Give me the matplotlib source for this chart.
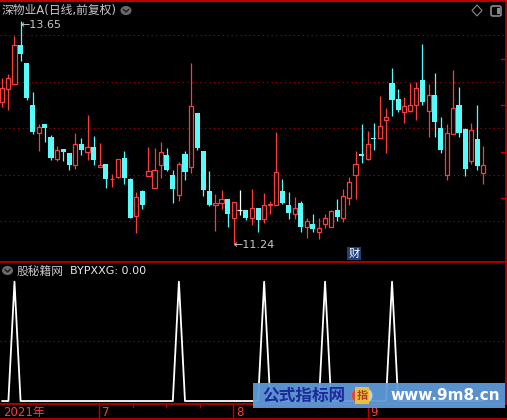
import matplotlib
matplotlib.use("Agg")
import matplotlib.pyplot as plt
from matplotlib.patches import Rectangle, Circle, Polygon, FancyBboxPatch, Wedge
import numpy as np

plt.rcParams['font.family'] = ['DejaVu Sans', 'Noto Sans CJK SC']

# daily prices, 2021-06 .. 2021-09
opens = [12.78, 12.92, 12.98, 13.40, 13.20, 12.75, 12.45, 12.55, 12.41, 12.17,
         12.28, 12.23, 12.10, 12.33, 12.25, 12.30, 12.08, 12.12, 11.95, 11.98,
         12.18, 11.96, 11.56, 11.83, 11.99, 11.86, 12.10, 12.21, 12.00, 11.78,
         12.22, 12.08, 12.66, 12.26, 11.83, 11.67, 11.70, 11.74, 11.54, 11.62,
         11.62, 11.53, 11.64, 11.52, 11.67, 11.68, 11.83, 11.68, 11.58, 11.70,
         11.44, 11.47, 11.38, 11.47, 11.44, 11.62, 11.54, 11.75, 12.00, 12.22,
         12.17, 12.40, 12.40, 12.59, 12.99, 12.82, 12.68, 12.69, 12.75, 13.02,
         12.69, 12.86, 12.50, 12.00, 12.44, 12.75, 12.49, 12.15, 12.39, 12.02]
closes = [12.93, 13.04, 13.40, 13.30, 12.83, 12.46, 12.51, 12.50, 12.18, 12.27,
          12.24, 12.11, 12.33, 12.27, 12.30, 12.16, 12.11, 11.95, 11.96, 12.17,
          11.97, 11.54, 11.76, 11.68, 12.04, 12.05, 12.25, 12.05, 11.85, 12.12,
          12.03, 12.74, 12.29, 11.84, 11.68, 11.70, 11.74, 11.58, 11.71, 11.62,
          11.54, 11.64, 11.51, 11.67, 11.69, 12.03, 11.70, 11.59, 11.64, 11.44,
          11.50, 11.42, 11.43, 11.53, 11.61, 11.55, 11.77, 11.92, 12.12, 12.20,
          12.33, 12.39, 12.53, 12.62, 12.80, 12.70, 12.74, 12.75, 12.93, 12.78,
          12.86, 12.57, 12.27, 12.45, 12.72, 12.45, 12.06, 12.48, 12.09, 12.11]
highs = [13.04, 13.08, 13.49, 13.65, 13.20, 12.89, 12.55, 12.55, 12.43, 12.31,
         12.28, 12.23, 12.45, 12.40, 12.64, 12.42, 12.34, 12.12, 12.01, 12.17,
         12.26, 11.97, 11.81, 11.84, 12.30, 12.29, 12.35, 12.29, 12.05, 12.14,
         12.26, 13.20, 12.66, 12.26, 12.04, 11.79, 11.84, 11.74, 11.71, 11.84,
         11.62, 11.85, 11.64, 11.80, 11.72, 12.46, 11.96, 11.82, 11.76, 11.72,
         11.54, 11.58, 11.54, 11.58, 11.62, 11.74, 11.85, 11.98, 12.26, 12.55,
         12.47, 12.56, 12.85, 12.72, 13.15, 12.92, 12.84, 12.99, 13.00, 13.41,
         12.98, 13.10, 12.62, 12.55, 13.13, 12.94, 12.50, 12.56, 12.75, 12.31]
lows = [12.73, 12.70, 12.98, 13.22, 12.80, 12.44, 12.26, 12.35, 12.16, 12.15,
        12.15, 12.05, 12.06, 12.21, 12.16, 12.11, 12.08, 11.86, 11.87, 11.97,
        11.90, 11.53, 11.37, 11.63, 11.99, 11.86, 11.97, 12.04, 11.70, 11.72,
        11.94, 12.02, 12.27, 11.77, 11.66, 11.40, 11.63, 11.44, 11.24, 11.57,
        11.51, 11.46, 11.38, 11.48, 11.58, 11.67, 11.69, 11.52, 11.52, 11.39,
        11.32, 11.39, 11.31, 11.43, 11.44, 11.50, 11.49, 11.68, 11.74, 12.13,
        12.16, 12.27, 12.40, 12.23, 12.63, 12.68, 12.56, 12.68, 12.59, 12.75,
        12.41, 12.41, 12.23, 11.94, 12.44, 12.41, 11.99, 12.12, 12.05, 11.90]
byp = [0, 0, 1, 0, 0, 0, 0, 0, 0, 0, 0, 0, 0, 0, 0, 0, 0, 0, 0, 0,
       0, 0, 0, 0, 0, 0, 0, 0, 0, 1, 0, 0, 0, 0, 0, 0, 0, 0, 0, 0,
       0, 0, 0, 1, 0, 0, 0, 0, 0, 0, 0, 0, 0, 1, 0, 0, 0, 0, 0, 0,
       0, 0, 0, 0, 1, 0, 0, 0, 0, 0, 0, 0, 0, 0, 0, 0, 0, 0, 0, 0]
month_labels = ["2021年", "7", "8", "9"]
month_starts = [0, 16, 38, 60]

RED = "#ff3c3c"
CYAN = "#54fcfc"
BORDER = "#c00000"
GRID = "#b00000"
GRAY = "#c8c8c8"
W, H = 507, 420

def fx(px):
    return px / W

def fy(py):
    return 1 - py / H

fig = plt.figure(figsize=(W / 100, H / 100), dpi=100, facecolor="black")
ax = fig.add_axes([0, fy(262), 505.5 / W, 261 / H])
ax2 = fig.add_axes([0, fy(404), 505.5 / W, 142 / H])
ax3 = fig.add_axes([0, fy(419), 1, 15 / H])

n = len(opens)
xlim = (-0.378, 82.63)
for a in (ax, ax2, ax3):
    a.set_facecolor("black")
    a.set_xlim(*xlim)
    a.set_xticks([])
    a.set_yticks([])
    for s in a.spines.values():
        s.set_visible(False)

# main candles
for i in range(n):
    o, c, h, l = opens[i], closes[i], highs[i], lows[i]
    if c > o:
        ax.vlines(i, c, h, color=RED, lw=0.9)
        ax.vlines(i, l, o, color=RED, lw=0.9)
        ax.bar(i, c - o, bottom=o, width=0.68, facecolor="black", edgecolor=RED, lw=0.9, zorder=3)
    elif c < o:
        ax.vlines(i, l, h, color=CYAN, lw=0.9)
        ax.bar(i, o - c, bottom=c, width=0.84, color=CYAN, lw=0, zorder=3)
    else:
        ax.vlines(i, l, h, color="white", lw=0.9)
        ax.hlines(o, i - 0.4, i + 0.4, color="white", lw=0.9)

ax.set_ylim(11.062, 13.869)
for g in [11.5, 12.0, 12.5, 13.0, 13.5]:
    ax.axhline(g, color=GRID, lw=0.8, ls=(0, (1, 3)), zorder=0)
ax.plot([0, 1], [1, 1], transform=ax.transAxes, color=BORDER, lw=1.5, clip_on=False)
ax.plot([1, 1], [0, 1], transform=ax.transAxes, color=BORDER, lw=1.2, clip_on=False)
for g in [11.75, 12.25, 12.75, 13.25]:
    ax.plot([81.95, 82.63], [g, g], color=BORDER, lw=1)

# high / low marks
hi = int(np.argmax(highs))
lo = int(np.argmin(lows))
ax.text(hi - 0.05, highs[hi] - 0.04, "←" + format(highs[hi], ".2f"), color=GRAY,
        fontsize=8, ha="left", va="center", zorder=5)
ax.text(lo - 0.05, lows[lo], "←" + format(lows[lo], ".2f"), color=GRAY,
        fontsize=8, ha="left", va="center", zorder=5)

# lower indicator panel
ax2.plot(np.arange(n), byp, color="white", lw=1.3)
ax2.set_ylim(-0.025, 1.165)
ax2.axhline(0.5, color=GRID, lw=0.8, ls=(0, (1, 3)), zorder=0)
ax2.plot([0, 1], [1, 1], transform=ax2.transAxes, color=BORDER, lw=1.2, clip_on=False)
ax2.plot([1, 1], [0, 1], transform=ax2.transAxes, color=BORDER, lw=1.2, clip_on=False)

# date strip
ax3.set_ylim(0, 1)
ax3.plot([0, 1], [1, 1], transform=ax3.transAxes, color=BORDER, lw=1.2, clip_on=False)
ax3.plot([0, 1], [0.03, 0.03], transform=ax3.transAxes, color=BORDER, lw=1.2, clip_on=False)
bounds = month_starts + [82.0]
for k, (m, lab) in enumerate(zip(month_starts, month_labels)):
    if m > 0:
        ax3.axvline(m - 0.17, color=BORDER, lw=1)
        ax3.text(m + 0.3, 0.45, lab, color=RED, fontsize=8.5, ha="left", va="center")
        nxt = bounds[k + 1] if m != month_starts[-1] else m + 22
        step = (nxt - m) / 4.0
        for q in range(1, 4):
            ax3.plot([m - 0.17 + q * step] * 2, [0.78, 1], color=BORDER, lw=0.8)
    else:
        ax3.text(0.1, 0.45, lab, color=RED, fontsize=8.5, ha="left", va="center")

# titles
fig.text(fx(2), fy(10), "深物业A(日线,前复权)", color=GRAY, fontsize=8.5, va="center", ha="left")
fig.patches.append(Circle((fx(126), fy(10.5)), 5.5 / W, transform=fig.transFigure,
                          facecolor="#6a6a6a", edgecolor="none"))
fig.lines.append(plt.Line2D([fx(123.5), fx(126), fx(128.5)], [fy(9.5), fy(12), fy(9.5)],
                            transform=fig.transFigure, color="#1a1a1a", lw=1))
fig.patches.append(Polygon([(fx(477), fy(5)), (fx(482), fy(10.5)), (fx(477), fy(16)), (fx(472), fy(10.5))],
                           closed=True, transform=fig.transFigure, fill=False, edgecolor="#8a8a8a", lw=0.8))
fig.patches.append(FancyBboxPatch((fx(491), fy(16)), 10 / W, 10 / H, boxstyle="round,pad=0,rounding_size=0.004",
                                  transform=fig.transFigure, fill=False, edgecolor="#8a8a8a", lw=1.2))
fig.patches.append(Rectangle((fx(497), fy(14)), 2.5 / W, 6 / H, transform=fig.transFigure,
                             facecolor="#8a8a8a", edgecolor="none"))

fig.patches.append(Circle((fx(7.5), fy(270.5)), 5.5 / W, transform=fig.transFigure,
                          facecolor="#6a6a6a", edgecolor="none"))
fig.lines.append(plt.Line2D([fx(5), fx(7.5), fx(10)], [fy(269.5), fy(272), fy(269.5)],
                            transform=fig.transFigure, color="#1a1a1a", lw=1))
fig.text(fx(17), fy(271), "股秘籍网", color=GRAY, fontsize=8.5, va="center", ha="left")
fig.text(fx(70), fy(271), "BYPXXG: 0.00", color="#e8e8e8", fontsize=8, va="center", ha="left")

# 财 badge
fig.patches.append(Rectangle((fx(347), fy(260)), 13.5 / W, 13 / H, transform=fig.transFigure,
                             facecolor="#1f3f7a", edgecolor="none"))
fig.text(fx(353.8), fy(253.5), "财", color="white", fontsize=8, va="center", ha="center")

# watermark banner
fig.patches.append(Rectangle((fx(253), fy(408)), 252 / W, 25 / H, transform=fig.transFigure,
                             facecolor="#5f9ad8", edgecolor="none", alpha=0.95, zorder=5))
fig.text(fx(262), fy(395.5), "公式指标网", color="#1c2a9c", fontsize=12, fontweight="bold",
         va="center", ha="left", zorder=6)
fig.patches.append(Circle((fx(362), fy(395.5)), 10.5 / W, transform=fig.transFigure,
                          facecolor="#c9ced6", edgecolor="none", zorder=6))
fig.patches.append(Wedge((fx(362), fy(395.5)), 10.5 / W, 90, 270, transform=fig.transFigure,
                         facecolor="#d84a3a", edgecolor="none", zorder=6))
fig.patches.append(Rectangle((fx(355), fy(404)), 14 / W, 17 / H, transform=fig.transFigure,
                             facecolor="#e8c040", edgecolor="none", zorder=7))
fig.text(fx(362), fy(395.5), "指", color="#b04020", fontsize=8, fontweight="bold",
         va="center", ha="center", zorder=8)
fig.text(fx(390), fy(395.5), "www.9m8.cn", color="white", fontsize=11, fontweight="bold",
         va="center", ha="left", zorder=6)

fig.savefig("out.png", dpi=100, facecolor="black")
